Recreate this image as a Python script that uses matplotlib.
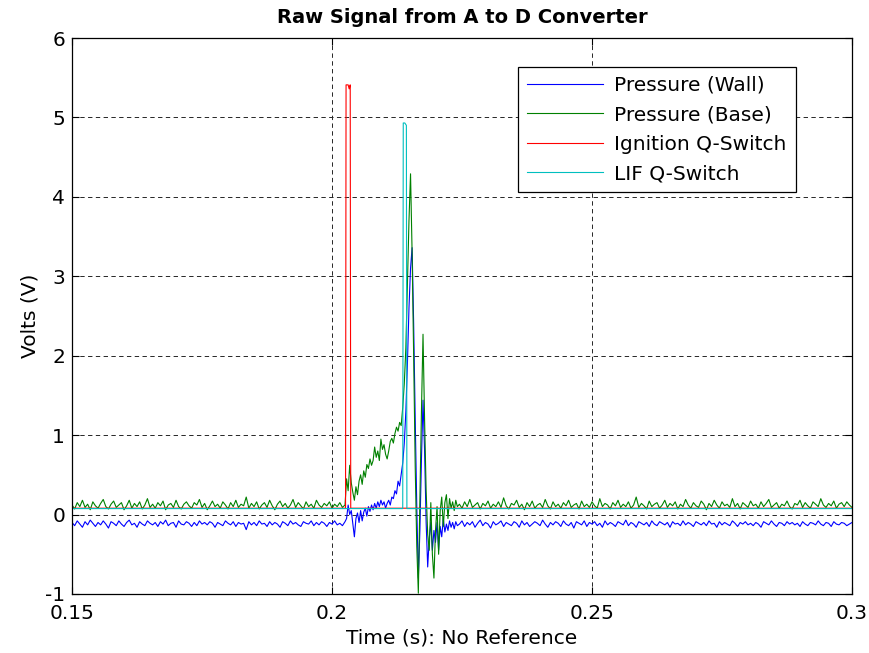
import matplotlib
matplotlib.use("Agg")
import matplotlib.pyplot as plt
import numpy as np

plt.rcParams["font.family"] = ["DejaVu Sans"]
plt.rcParams["axes.unicode_minus"] = False

# sampled segments: quiet baseline before the event, event window, quiet baseline after
t_left_start, t_left_step = 0.1500, 0.0005
t_spike_start, t_spike_step = 0.2028, 0.0003
t_right_start, t_right_step = 0.2245, 0.0005

wall_left = [-0.10, -0.14, -0.08, -0.12, -0.16, -0.09, -0.13, -0.07, -0.11, -0.15,
             -0.10, -0.13, -0.08, -0.12, -0.17, -0.09, -0.11, -0.14, -0.08, -0.12,
             -0.15, -0.10, -0.07, -0.13, -0.11, -0.16, -0.09, -0.12, -0.14, -0.08,
             -0.11, -0.13, -0.10, -0.15, -0.09, -0.12, -0.07, -0.14, -0.11, -0.10,
             -0.16, -0.08, -0.12, -0.13, -0.09, -0.11, -0.15, -0.10, -0.14, -0.08,
             -0.12, -0.10, -0.13, -0.09, -0.11, -0.16, -0.10, -0.12, -0.14, -0.08,
             -0.11, -0.13, -0.09, -0.15, -0.10, -0.12, -0.11, -0.19, -0.09, -0.13,
             -0.10, -0.14, -0.08, -0.12, -0.11, -0.15, -0.09, -0.13, -0.10, -0.12,
             -0.16, -0.09, -0.11, -0.14, -0.08, -0.12, -0.10, -0.13, -0.15, -0.09,
             -0.11, -0.12, -0.08, -0.14, -0.10, -0.13, -0.09, -0.11, -0.15, -0.10,
             -0.12, -0.08, -0.13, -0.11, -0.14, -0.09]
base_left = [0.12, 0.07, 0.15, 0.10, 0.18, 0.09, 0.13, 0.06, 0.16, 0.11,
             0.08, 0.14, 0.19, 0.10, 0.07, 0.13, 0.17, 0.09, 0.12, 0.15,
             0.06, 0.11, 0.18, 0.08, 0.14, 0.10, 0.16, 0.07, 0.12, 0.20,
             0.09, 0.13, 0.08, 0.15, 0.11, 0.17, 0.06, 0.12, 0.14, 0.09,
             0.18, 0.10, 0.07, 0.13, 0.16, 0.11, 0.08, 0.15, 0.12, 0.19,
             0.09, 0.14, 0.06, 0.11, 0.17, 0.10, 0.13, 0.08, 0.16, 0.12,
             0.07, 0.15, 0.10, 0.18, 0.09, 0.13, 0.11, 0.22, 0.08, 0.14,
             0.10, 0.16, 0.07, 0.12, 0.15, 0.09, 0.18, 0.11, 0.06, 0.13,
             0.17, 0.10, 0.14, 0.08, 0.12, 0.19, 0.09, 0.15, 0.11, 0.07,
             0.16, 0.10, 0.13, 0.08, 0.18, 0.12, 0.09, 0.14, 0.11, 0.16,
             0.08, 0.13, 0.10, 0.15, 0.09, 0.12]

wall_spike = [-0.05, 0.12, 0.00, 0.05, -0.12, -0.28, -0.05, 0.02, -0.10, 0.05,
              -0.08, 0.03, 0.08, -0.02, 0.10, 0.04, 0.12, 0.06, 0.14, 0.08,
              0.16, 0.10, 0.18, 0.12, 0.16, 0.08, 0.14, 0.18, 0.12, 0.22,
              0.20, 0.30, 0.26, 0.42, 0.36, 0.50, 0.65, 0.90, 1.30, 1.90,
              2.60, 3.10, 3.36, 2.40, 1.20, 0.10, -0.80, -0.20, 0.70, 1.44,
              0.80, -0.10, -0.66, -0.30, -0.10, -0.45, -0.20, -0.35, -0.10, -0.45,
              -0.15, -0.28, -0.05, -0.22, -0.12, -0.20, -0.08, -0.16, -0.10, -0.18,
              -0.09, -0.14]
base_spike = [0.45, 0.30, 0.62, 0.40, 0.28, 0.18, 0.35, 0.25, 0.42, 0.50,
              0.38, 0.55, 0.47, 0.63, 0.58, 0.70, 0.62, 0.68, 0.85, 0.72,
              0.80, 0.68, 0.95, 0.82, 0.88, 0.76, 0.70, 0.80, 0.92, 0.96,
              0.90, 1.02, 1.10, 1.05, 1.16, 1.12, 1.35, 1.65, 2.10, 2.90,
              3.70, 4.29, 3.30, 2.00, 0.60, -0.40, -0.99, 0.20, 1.30, 2.27,
              1.20, 0.30, -0.25, -0.45, 0.15, -0.50, -0.80, -0.20, 0.10, -0.50,
              0.05, 0.22, -0.15, 0.15, 0.25, -0.05, 0.20, 0.08, 0.16, 0.05,
              0.18, 0.10]

wall_right = [-0.12, -0.08, -0.15, -0.10, -0.13, -0.09, -0.16, -0.11, -0.07, -0.14,
              -0.10, -0.12, -0.17, -0.09, -0.13, -0.11, -0.08, -0.15, -0.10, -0.12,
              -0.14, -0.09, -0.11, -0.16, -0.08, -0.13, -0.10, -0.15, -0.12, -0.09,
              -0.11, -0.14, -0.07, -0.12, -0.16, -0.10, -0.13, -0.09, -0.11, -0.15,
              -0.08, -0.12, -0.14, -0.10, -0.17, -0.09, -0.11, -0.13, -0.08, -0.15,
              -0.10, -0.12, -0.09, -0.14, -0.11, -0.16, -0.08, -0.13, -0.10, -0.12,
              -0.15, -0.09, -0.11, -0.13, -0.07, -0.14, -0.10, -0.12, -0.16, -0.09,
              -0.11, -0.13, -0.10, -0.15, -0.08, -0.12, -0.14, -0.09, -0.11, -0.13,
              -0.10, -0.16, -0.09, -0.12, -0.11, -0.14, -0.08, -0.13, -0.10, -0.12,
              -0.15, -0.09, -0.11, -0.13, -0.10, -0.14, -0.08, -0.12, -0.11, -0.16,
              -0.09, -0.13, -0.10, -0.12, -0.14, -0.08, -0.11, -0.15, -0.10, -0.12,
              -0.09, -0.13, -0.11, -0.14, -0.10, -0.12, -0.16, -0.09, -0.11, -0.13,
              -0.08, -0.12, -0.15, -0.10, -0.11, -0.14, -0.09, -0.12, -0.10, -0.13,
              -0.11, -0.15, -0.09, -0.12, -0.14, -0.10, -0.11, -0.13, -0.08, -0.12,
              -0.14, -0.10, -0.11, -0.15, -0.09, -0.12, -0.13, -0.10, -0.11, -0.14,
              -0.12, -0.10]
base_right = [0.13, 0.08, 0.16, 0.10, 0.19, 0.09, 0.12, 0.15, 0.07, 0.14,
              0.11, 0.17, 0.08, 0.13, 0.10, 0.16, 0.09, 0.21, 0.11, 0.07,
              0.14, 0.12, 0.18, 0.09, 0.13, 0.06, 0.15, 0.10, 0.17, 0.08,
              0.12, 0.14, 0.09, 0.19, 0.11, 0.07, 0.16, 0.10, 0.13, 0.08,
              0.15, 0.11, 0.18, 0.09, 0.12, 0.14, 0.07, 0.17, 0.10, 0.13,
              0.09, 0.16, 0.11, 0.08, 0.20, 0.10, 0.14, 0.12, 0.07, 0.15,
              0.11, 0.18, 0.09, 0.13, 0.10, 0.16, 0.08, 0.12, 0.22, 0.09,
              0.14, 0.11, 0.07, 0.17, 0.10, 0.13, 0.15, 0.08, 0.12, 0.18,
              0.09, 0.14, 0.11, 0.16, 0.07, 0.13, 0.10, 0.19, 0.12, 0.08,
              0.15, 0.11, 0.09, 0.17, 0.13, 0.06, 0.14, 0.10, 0.18, 0.12,
              0.08, 0.16, 0.11, 0.13, 0.09, 0.20, 0.10, 0.14, 0.07, 0.15,
              0.12, 0.09, 0.17, 0.11, 0.13, 0.08, 0.16, 0.10, 0.14, 0.19,
              0.09, 0.12, 0.15, 0.08, 0.13, 0.11, 0.17, 0.10, 0.07, 0.14,
              0.12, 0.18, 0.09, 0.15, 0.11, 0.08, 0.16, 0.13, 0.10, 0.20,
              0.12, 0.09, 0.14, 0.11, 0.17, 0.08, 0.13, 0.15, 0.10, 0.16,
              0.12, 0.09]

# Q-switch trigger pulses
ign_t = [0.1500, 0.2026, 0.2027, 0.2031, 0.2033, 0.2035, 0.2036, 0.3000]
ign_v = [0.08, 0.08, 5.41, 5.41, 5.36, 5.41, 0.08, 0.08]
lif_t = [0.1500, 0.2136, 0.2137, 0.2140, 0.2143, 0.2144, 0.3000]
lif_v = [0.075, 0.075, 4.93, 4.93, 4.90, 0.075, 0.075]

labels = ["Pressure (Wall)", "Pressure (Base)", "Ignition Q-Switch", "LIF Q-Switch"]
xticks = [0.15, 0.2, 0.25, 0.3]
xtick_labels = ["0.15", "0.2", "0.25", "0.3"]
yticks = [-1, 0, 1, 2, 3, 4, 5, 6]


def sample_times(start, step, n):
    return start + step * np.arange(n)


t = np.concatenate([
    sample_times(t_left_start, t_left_step, len(wall_left)),
    sample_times(t_spike_start, t_spike_step, len(wall_spike)),
    sample_times(t_right_start, t_right_step, len(wall_right)),
])
wall = np.concatenate([wall_left, wall_spike, wall_right])
base = np.concatenate([base_left, base_spike, base_right])

fig = plt.figure(figsize=(8.7, 6.53), dpi=100)
ax = fig.add_axes([0.0828, 0.0904, 0.8965, 0.8514])

lw = 0.8
ax.plot(t, wall, color="#0000ff", lw=lw, label=labels[0])
ax.plot(t, base, color="#008000", lw=lw, label=labels[1])
ax.plot(ign_t, ign_v, color="#ff0000", lw=lw, label=labels[2])
ax.plot(lif_t, lif_v, color="#00bfbf", lw=lw, label=labels[3])

ax.set_xlim(0.15, 0.3)
ax.set_ylim(-1, 6)
ax.set_xticks(xticks)
ax.set_xticklabels(xtick_labels)
ax.set_yticks(yticks)
ax.grid(True, color="0.15", linestyle=(0, (4.5, 3.5)), lw=0.7)
ax.tick_params(direction="in", top=True, right=True, length=5, labelsize=14.5)
ax.tick_params(axis="x", pad=7)
ax.tick_params(axis="y", pad=5)
for s in ax.spines.values():
    s.set_linewidth(0.9)

ax.set_title("Raw Signal from A to D Converter", fontsize=14, fontweight="bold", pad=11)
ax.set_xlabel("Time (s): No Reference", fontsize=14.5, labelpad=4)
ax.set_ylabel("Volts (V)", fontsize=14.5, labelpad=4)

leg = ax.legend(loc="upper right", bbox_to_anchor=(0.928, 0.948), borderaxespad=0,
                fancybox=False, framealpha=1, edgecolor="black", fontsize=14.5,
                handlelength=3.8, handletextpad=0.55, labelspacing=0.52, borderpad=0.45)
leg.get_frame().set_linewidth(0.9)

fig.savefig("out.png", dpi=100)
